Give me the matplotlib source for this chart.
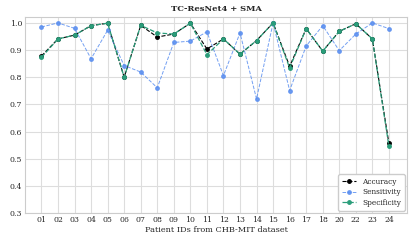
import numpy as np
import matplotlib
matplotlib.use("Agg")
import matplotlib.pyplot as plt
import seaborn as sns

patients = ["01", "02", "03", "04", "05", "06", "07", "08", "09", "10", "11",
            "12", "13", "14", "15", "16", "17", "18", "20", "22", "23", "24"]
accuracy = [0.878, 0.941, 0.955, 0.990, 0.999, 0.800, 0.991, 0.948, 0.959, 0.999, 0.904,
            0.941, 0.885, 0.935, 1.000, 0.840, 0.979, 0.896, 0.969, 0.997, 0.941, 0.556]
sensitivity = [0.985, 1.000, 0.980, 0.868, 0.973, 0.843, 0.819, 0.761, 0.928, 0.933, 0.967,
               0.806, 0.963, 0.720, 1.000, 0.751, 0.915, 0.990, 0.898, 0.959, 1.000, 0.979]
specificity = [0.873, 0.941, 0.955, 0.990, 0.999, 0.800, 0.991, 0.963, 0.959, 0.999, 0.883,
               0.941, 0.885, 0.935, 1.000, 0.834, 0.979, 0.896, 0.969, 0.997, 0.941, 0.546]

sns.set_style("whitegrid")
plt.rcParams['font.family'] = ['DejaVu Serif']

fig, ax = plt.subplots(figsize=(4.15, 2.42), dpi=100)
fig.subplots_adjust(left=0.060, right=0.981, bottom=0.120, top=0.930)

x = np.arange(len(patients))
ax.plot(x, accuracy, "--o", color="black", lw=0.8, ms=2.5, label="Accuracy")
ax.plot(x, sensitivity, "--o", color="#5b8ff0", lw=0.7, ms=2.5, alpha=0.85, label="Sensitivity")
ax.plot(x, specificity, "--o", color="#2a9d7a", lw=0.9, ms=2.5, label="Specificity")

ax.set_xticks(x)
ax.set_xticklabels(patients)
ax.set_xlim(-1.0, 22.1)
ax.set_ylim(0.3, 1.022)
ax.set_yticks(np.arange(0.3, 1.01, 0.1))
ax.tick_params(labelsize=5.6, pad=2, length=0)
ax.grid(lw=0.8, color="#dddddd")
for s in ax.spines.values():
    s.set_color("#cccccc")
    s.set_linewidth(0.8)

ax.set_xlabel("Patient IDs from CHB-MIT dataset", fontsize=5.9, labelpad=1.5)
ax.set_title("TC-ResNet4 + SMA", fontsize=6, fontweight="bold", pad=4)
ax.legend(loc="lower right", fontsize=5.3, handlelength=2, borderpad=0.5,
          labelspacing=0.35, framealpha=1, borderaxespad=0.3)

fig.savefig("out.png", dpi=100)
